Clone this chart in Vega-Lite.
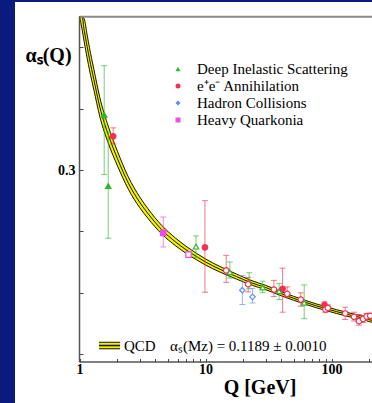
{
  "$schema": "https://vega.github.io/schema/vega-lite/v6.json",
  "width": 357,
  "height": 401,
  "autosize": {"type": "none"},
  "padding": {"left": 15, "top": 2, "right": 0, "bottom": 0},
  "background": "#0a1a7e",
  "config": {"view": {"fill": "white", "stroke": null}},
  "datasets": {
    "qcd": [
      {"Q": 1.0, "lo": 0.5, "mid": 0.5, "hi": 0.5},
      {"Q": 1.047, "lo": 0.484, "mid": 0.5, "hi": 0.5},
      {"Q": 1.09, "lo": 0.467, "mid": 0.482, "hi": 0.497},
      {"Q": 1.15, "lo": 0.446, "mid": 0.461, "hi": 0.476},
      {"Q": 1.2, "lo": 0.4305, "mid": 0.445, "hi": 0.4595},
      {"Q": 1.3, "lo": 0.4045, "mid": 0.418, "hi": 0.4315},
      {"Q": 1.45, "lo": 0.3695, "mid": 0.382, "hi": 0.3945},
      {"Q": 1.7, "lo": 0.334, "mid": 0.345, "hi": 0.356},
      {"Q": 2.0, "lo": 0.3055, "mid": 0.315, "hi": 0.3245},
      {"Q": 2.44, "lo": 0.275, "mid": 0.283, "hi": 0.291},
      {"Q": 3.0, "lo": 0.251, "mid": 0.258, "hi": 0.265},
      {"Q": 3.5, "lo": 0.2367, "mid": 0.243, "hi": 0.2493},
      {"Q": 4.5, "lo": 0.2164, "mid": 0.222, "hi": 0.2276},
      {"Q": 5.8, "lo": 0.201, "mid": 0.206, "hi": 0.211},
      {"Q": 7.0, "lo": 0.1914, "mid": 0.196, "hi": 0.2006},
      {"Q": 8.5, "lo": 0.1828, "mid": 0.187, "hi": 0.1912},
      {"Q": 10, "lo": 0.176, "mid": 0.18, "hi": 0.184},
      {"Q": 13, "lo": 0.1669, "mid": 0.1705, "hi": 0.1741},
      {"Q": 17.6, "lo": 0.1577, "mid": 0.161, "hi": 0.1643},
      {"Q": 23, "lo": 0.15, "mid": 0.153, "hi": 0.156},
      {"Q": 30, "lo": 0.1439, "mid": 0.1467, "hi": 0.1495},
      {"Q": 40, "lo": 0.1358, "mid": 0.1385, "hi": 0.1412},
      {"Q": 50, "lo": 0.13, "mid": 0.1326, "hi": 0.1352},
      {"Q": 62, "lo": 0.1249, "mid": 0.1274, "hi": 0.1299},
      {"Q": 75, "lo": 0.1205, "mid": 0.123, "hi": 0.1255},
      {"Q": 91.2, "lo": 0.1164, "mid": 0.1189, "hi": 0.1214},
      {"Q": 110, "lo": 0.1127, "mid": 0.1152, "hi": 0.1177},
      {"Q": 130, "lo": 0.1096, "mid": 0.1121, "hi": 0.1146},
      {"Q": 157, "lo": 0.1063, "mid": 0.1088, "hi": 0.1113},
      {"Q": 190, "lo": 0.1032, "mid": 0.1057, "hi": 0.1082},
      {"Q": 209.6, "lo": 0.1013, "mid": 0.1038, "hi": 0.1063}
    ],
    "meas": [
      {"group": "Deep Inelastic Scattering", "filled": 1, "Q": 1.57, "a": 0.372, "lo": 0.294, "hi": 0.436},
      {"group": "Deep Inelastic Scattering", "filled": 1, "Q": 1.69, "a": 0.279, "lo": 0.211, "hi": 0.349},
      {"group": "Deep Inelastic Scattering", "filled": 0, "Q": 8.4, "a": 0.2, "lo": 0.186, "hi": 0.214},
      {"group": "Deep Inelastic Scattering", "filled": 0, "Q": 15.6, "a": 0.1665, "lo": 0.159, "hi": 0.18},
      {"group": "Deep Inelastic Scattering", "filled": 0, "Q": 22.2, "a": 0.153, "lo": 0.145, "hi": 0.166},
      {"group": "Deep Inelastic Scattering", "filled": 0, "Q": 28.4, "a": 0.1466, "lo": 0.14, "hi": 0.155},
      {"group": "Deep Inelastic Scattering", "filled": 0, "Q": 38.4, "a": 0.1418, "lo": 0.131, "hi": 0.152},
      {"group": "Deep Inelastic Scattering", "filled": 0, "Q": 60.7, "a": 0.1267, "lo": 0.106, "hi": 0.15},
      {"group": "e⁺e⁻ Annihilation", "filled": 1, "Q": 1.85, "a": 0.344, "lo": 0.334, "hi": 0.355},
      {"group": "e⁺e⁻ Annihilation", "filled": 1, "Q": 9.9, "a": 0.199, "lo": 0.1405, "hi": 0.26},
      {"group": "e⁺e⁻ Annihilation", "filled": 0, "Q": 14.6, "a": 0.169, "lo": 0.1535, "hi": 0.1887},
      {"group": "e⁺e⁻ Annihilation", "filled": 0, "Q": 21.8, "a": 0.151, "lo": 0.141, "hi": 0.16},
      {"group": "e⁺e⁻ Annihilation", "filled": 0, "Q": 34.9, "a": 0.144, "lo": 0.135, "hi": 0.156},
      {"group": "e⁺e⁻ Annihilation", "filled": 1, "Q": 40.9, "a": 0.145, "lo": 0.1145, "hi": 0.172},
      {"group": "e⁺e⁻ Annihilation", "filled": 0, "Q": 44.5, "a": 0.1384, "lo": 0.134, "hi": 0.1475},
      {"group": "e⁺e⁻ Annihilation", "filled": 0, "Q": 57.0, "a": 0.131, "lo": 0.1223, "hi": 0.1397},
      {"group": "e⁺e⁻ Annihilation", "filled": 1, "Q": 88, "a": 0.124, "lo": 0.12, "hi": 0.128},
      {"group": "e⁺e⁻ Annihilation", "filled": 0, "Q": 89.5, "a": 0.118, "lo": 0.114, "hi": 0.122},
      {"group": "e⁺e⁻ Annihilation", "filled": 0, "Q": 93.5, "a": 0.12, "lo": 0.116, "hi": 0.124},
      {"group": "e⁺e⁻ Annihilation", "filled": 0, "Q": 128.5, "a": 0.1128, "lo": 0.105, "hi": 0.121},
      {"group": "e⁺e⁻ Annihilation", "filled": 0, "Q": 151, "a": 0.1085, "lo": 0.103, "hi": 0.1145},
      {"group": "e⁺e⁻ Annihilation", "filled": 0, "Q": 165, "a": 0.1027, "lo": 0.0975, "hi": 0.1115},
      {"group": "e⁺e⁻ Annihilation", "filled": 0, "Q": 178, "a": 0.1057, "lo": 0.101, "hi": 0.11},
      {"group": "e⁺e⁻ Annihilation", "filled": 0, "Q": 190, "a": 0.109, "lo": 0.105, "hi": 0.113},
      {"group": "e⁺e⁻ Annihilation", "filled": 0, "Q": 203, "a": 0.1098, "lo": 0.106, "hi": 0.113},
      {"group": "Hadron Collisions", "filled": 0, "Q": 19.6, "a": 0.1431, "lo": 0.1245, "hi": 0.1622},
      {"group": "Hadron Collisions", "filled": 0, "Q": 23.6, "a": 0.1345, "lo": 0.1265, "hi": 0.1456},
      {"group": "Heavy Quarkonia", "filled": 1, "Q": 4.62, "a": 0.218, "lo": 0.1996, "hi": 0.2387},
      {"group": "Heavy Quarkonia", "filled": 0, "Q": 7.33, "a": 0.1896, "lo": 0.1856, "hi": 0.1936}
    ]
  },
  "layer": [
    {
      "data": {"name": "qcd"},
      "mark": {"type": "area", "color": "#f0f000", "interpolate": "monotone"},
      "encoding": {
        "x": {
          "field": "Q", "type": "quantitative",
          "scale": {"type": "log", "domain": [0.3076, 209.6], "nice": false},
          "axis": {
            "orient": "bottom", "offset": -41, "domain": false, "grid": false,
            "values": [1, 2, 3, 4, 5, 6, 7, 8, 9, 10, 20, 30, 40, 50, 60, 70, 80, 90, 100, 200],
            "labelExpr": "indexof([1,10,100], datum.value) >= 0 ? '' + datum.value : ''",
            "tickSize": -3.5,
            "tickColor": "#444", "tickWidth": 1,
            "labelFont": "Liberation Serif", "labelFontWeight": "bold", "labelFontSize": 14, "labelColor": "black",
            "labelPadding": 4, "labelOverlap": false, "labelFlush": false, "labelBaseline": "top",
            "title": "Q [GeV]", "titleFont": "Liberation Serif", "titleFontSize": 20, "titleFontWeight": "bold",
            "titleColor": "black", "titleX": 244.5, "titleY": 31, "titleAlign": "center", "titleBaseline": "alphabetic"
          }
        },
        "y": {
          "field": "lo", "type": "quantitative",
          "scale": {"domain": [-0.004, 0.5192], "nice": false, "zero": false},
          "axis": {
            "orient": "left", "offset": -64.5, "domain": false, "grid": false,
            "values": [0.06, 0.08, 0.1, 0.12, 0.14, 0.16, 0.18, 0.2, 0.22, 0.24, 0.26, 0.28, 0.3, 0.32, 0.34, 0.36, 0.38, 0.4, 0.42, 0.44, 0.46, 0.48, 0.5],
            "labelExpr": "abs(datum.value * 10 - round(datum.value * 10)) < 0.001 ? format(datum.value, '.1f') : ''",
            "tickSize": -3.5,
            "tickColor": "#444", "tickWidth": 1,
            "labelFont": "Liberation Serif", "labelFontWeight": "bold", "labelFontSize": 14, "labelColor": "black",
            "labelPadding": 8, "labelOverlap": false, "labelFlush": false,
            "title": "αₛ(Q)", "titleFont": "Liberation Serif", "titleFontSize": 20, "titleFontWeight": "bold",
            "titleColor": "black", "titleAngle": 0, "titleX": -54.5, "titleY": 59, "titleAlign": "left", "titleBaseline": "alphabetic"
          }
        },
        "y2": {"field": "hi"}
      }
    },
    {
      "data": {"name": "qcd"},
      "mark": {"type": "line", "color": "#151500", "strokeWidth": 1.0, "interpolate": "monotone"},
      "encoding": {
        "x": {"field": "Q", "type": "quantitative"},
        "y": {"field": "lo", "type": "quantitative"}
      }
    },
    {
      "data": {"name": "qcd"},
      "mark": {"type": "line", "color": "#151500", "strokeWidth": 1.0, "interpolate": "monotone"},
      "encoding": {
        "x": {"field": "Q", "type": "quantitative"},
        "y": {"field": "mid", "type": "quantitative"}
      }
    },
    {
      "data": {"name": "qcd"},
      "mark": {"type": "line", "color": "#151500", "strokeWidth": 1.0, "interpolate": "monotone"},
      "encoding": {
        "x": {"field": "Q", "type": "quantitative"},
        "y": {"field": "hi", "type": "quantitative"}
      }
    },
    {
      "data": {"name": "meas"},
      "mark": {"type": "rule", "strokeWidth": 1, "strokeOpacity": 0.65},
      "encoding": {
        "x": {"field": "Q", "type": "quantitative"},
        "y": {"field": "lo", "type": "quantitative"},
        "y2": {"field": "hi"},
        "stroke": {"field": "group", "type": "nominal"}
      }
    },
    {
      "data": {"name": "meas"},
      "mark": {"type": "tick", "orient": "horizontal", "size": 6, "thickness": 1, "opacity": 0.65},
      "encoding": {
        "x": {"field": "Q", "type": "quantitative"},
        "y": {"field": "lo", "type": "quantitative"},
        "fill": {"field": "group", "type": "nominal"}
      }
    },
    {
      "data": {"name": "meas"},
      "mark": {"type": "tick", "orient": "horizontal", "size": 6, "thickness": 1, "opacity": 0.65},
      "encoding": {
        "x": {"field": "Q", "type": "quantitative"},
        "y": {"field": "hi", "type": "quantitative"},
        "fill": {"field": "group", "type": "nominal"}
      }
    },
    {
      "data": {"name": "meas"},
      "mark": {"type": "point", "filled": true, "size": 30, "strokeWidth": 1.2, "opacity": 1},
      "encoding": {
        "x": {"field": "Q", "type": "quantitative"},
        "y": {"field": "a", "type": "quantitative"},
        "shape": {
          "field": "group", "type": "nominal",
          "scale": {
            "domain": ["Deep Inelastic Scattering", "e⁺e⁻ Annihilation", "Hadron Collisions", "Heavy Quarkonia"],
            "range": ["triangle-up", "circle", "diamond", "square"]
          },
          "legend": {
            "orient": "none", "legendX": 155.5, "legendY": 59.5, "title": null, "padding": 0,
            "labelFont": "Liberation Serif", "labelFontSize": 15, "labelLimit": 300,
            "symbolSize": 25, "labelOffset": 11.5, "rowPadding": 1, "symbolStrokeWidth": 0,
            "encode": {
              "symbols": {
                "update": {
                  "shape": {"signal": "datum.value === 'Deep Inelastic Scattering' ? 'M-2.4,0.85L-1.4,-0.9L-0.4,0.85ZM-1.8,0.5L-1,0.5L-1.4,-0.2ZM0.4,0.85L1.4,-0.9L2.4,0.85Z' : datum.value === 'Hadron Collisions' ? 'M-1.4,-1L-0.4,0L-1.4,1L-2.4,0ZM-1.4,-0.5L-1.9,0L-1.4,0.5L-0.9,0Z' : datum.value === 'Heavy Quarkonia' ? 'M-2.3,-0.9L-0.5,-0.9L-0.5,0.9L-2.3,0.9ZM-1.9,-0.5L-1.9,0.5L-0.9,0.5L-0.9,-0.5ZM0.5,-0.9L2.3,-0.9L2.3,0.9L0.5,0.9Z' : 'M-2.25,0A0.85,0.85,0,1,1,-0.55,0A0.85,0.85,0,1,1,-2.25,0ZM-1.85,0A0.45,0.45,0,1,0,-0.95,0A0.45,0.45,0,1,0,-1.85,0ZM0.55,0A0.85,0.85,0,1,1,2.25,0A0.85,0.85,0,1,1,0.55,0Z'"},
                  "fill": {"signal": "datum.value === 'Deep Inelastic Scattering' ? '#2fb52f' : datum.value === 'Hadron Collisions' ? '#5b8cff' : datum.value === 'Heavy Quarkonia' ? '#f04ae6' : '#f2304f'"},
                  "fillOpacity": {"value": 1},
                  "opacity": {"value": 1},
                  "strokeWidth": {"value": 0}
                }
              },
              "labels": {
                "update": {
                  "fill": {"signal": "datum.value === 'Deep Inelastic Scattering' ? '#3cb83c' : datum.value === 'Hadron Collisions' ? '#6b98ff' : datum.value === 'Heavy Quarkonia' ? '#f25cf0' : '#f5335a'"}
                }
              }
            }
          }
        },
        "fill": {
          "condition": {"test": "datum.filled == 0", "value": "white"},
          "field": "group", "type": "nominal",
          "scale": {
            "domain": ["Deep Inelastic Scattering", "e⁺e⁻ Annihilation", "Hadron Collisions", "Heavy Quarkonia"],
            "range": ["#2fb52f", "#f2304f", "#5b8cff", "#f04ae6"]
          },
          "legend": {
            "orient": "none", "legendX": 155.5, "legendY": 59.5, "title": null, "padding": 0,
            "labelFont": "Liberation Serif", "labelFontSize": 15, "labelLimit": 300,
            "symbolSize": 25, "labelOffset": 11.5, "rowPadding": 1, "symbolStrokeWidth": 0,
            "encode": {
              "symbols": {
                "update": {
                  "shape": {"signal": "datum.value === 'Deep Inelastic Scattering' ? 'M-2.4,0.85L-1.4,-0.9L-0.4,0.85ZM-1.8,0.5L-1,0.5L-1.4,-0.2ZM0.4,0.85L1.4,-0.9L2.4,0.85Z' : datum.value === 'Hadron Collisions' ? 'M-1.4,-1L-0.4,0L-1.4,1L-2.4,0ZM-1.4,-0.5L-1.9,0L-1.4,0.5L-0.9,0Z' : datum.value === 'Heavy Quarkonia' ? 'M-2.3,-0.9L-0.5,-0.9L-0.5,0.9L-2.3,0.9ZM-1.9,-0.5L-1.9,0.5L-0.9,0.5L-0.9,-0.5ZM0.5,-0.9L2.3,-0.9L2.3,0.9L0.5,0.9Z' : 'M-2.25,0A0.85,0.85,0,1,1,-0.55,0A0.85,0.85,0,1,1,-2.25,0ZM-1.85,0A0.45,0.45,0,1,0,-0.95,0A0.45,0.45,0,1,0,-1.85,0ZM0.55,0A0.85,0.85,0,1,1,2.25,0A0.85,0.85,0,1,1,0.55,0Z'"},
                  "fill": {"signal": "datum.value === 'Deep Inelastic Scattering' ? '#2fb52f' : datum.value === 'Hadron Collisions' ? '#5b8cff' : datum.value === 'Heavy Quarkonia' ? '#f04ae6' : '#f2304f'"},
                  "fillOpacity": {"value": 1},
                  "opacity": {"value": 1},
                  "strokeWidth": {"value": 0}
                }
              },
              "labels": {
                "update": {
                  "fill": {"signal": "datum.value === 'Deep Inelastic Scattering' ? '#3cb83c' : datum.value === 'Hadron Collisions' ? '#6b98ff' : datum.value === 'Heavy Quarkonia' ? '#f25cf0' : '#f5335a'"}
                }
              }
            }
          }
        },
        "stroke": {
          "field": "group", "type": "nominal",
          "scale": {
            "domain": ["Deep Inelastic Scattering", "e⁺e⁻ Annihilation", "Hadron Collisions", "Heavy Quarkonia"],
            "range": ["#2fb52f", "#f2304f", "#5b8cff", "#f04ae6"]
          },
          "legend": {
            "orient": "none", "legendX": 155.5, "legendY": 59.5, "title": null, "padding": 0,
            "labelFont": "Liberation Serif", "labelFontSize": 15, "labelLimit": 300,
            "symbolSize": 25, "labelOffset": 11.5, "rowPadding": 1, "symbolStrokeWidth": 0,
            "encode": {
              "symbols": {
                "update": {
                  "shape": {"signal": "datum.value === 'Deep Inelastic Scattering' ? 'M-2.4,0.85L-1.4,-0.9L-0.4,0.85ZM-1.8,0.5L-1,0.5L-1.4,-0.2ZM0.4,0.85L1.4,-0.9L2.4,0.85Z' : datum.value === 'Hadron Collisions' ? 'M-1.4,-1L-0.4,0L-1.4,1L-2.4,0ZM-1.4,-0.5L-1.9,0L-1.4,0.5L-0.9,0Z' : datum.value === 'Heavy Quarkonia' ? 'M-2.3,-0.9L-0.5,-0.9L-0.5,0.9L-2.3,0.9ZM-1.9,-0.5L-1.9,0.5L-0.9,0.5L-0.9,-0.5ZM0.5,-0.9L2.3,-0.9L2.3,0.9L0.5,0.9Z' : 'M-2.25,0A0.85,0.85,0,1,1,-0.55,0A0.85,0.85,0,1,1,-2.25,0ZM-1.85,0A0.45,0.45,0,1,0,-0.95,0A0.45,0.45,0,1,0,-1.85,0ZM0.55,0A0.85,0.85,0,1,1,2.25,0A0.85,0.85,0,1,1,0.55,0Z'"},
                  "fill": {"signal": "datum.value === 'Deep Inelastic Scattering' ? '#2fb52f' : datum.value === 'Hadron Collisions' ? '#5b8cff' : datum.value === 'Heavy Quarkonia' ? '#f04ae6' : '#f2304f'"},
                  "fillOpacity": {"value": 1},
                  "opacity": {"value": 1},
                  "strokeWidth": {"value": 0}
                }
              },
              "labels": {
                "update": {
                  "fill": {"signal": "datum.value === 'Deep Inelastic Scattering' ? '#3cb83c' : datum.value === 'Hadron Collisions' ? '#6b98ff' : datum.value === 'Heavy Quarkonia' ? '#f25cf0' : '#f5335a'"}
                }
              }
            }
          }
        }
      }
    },
    {
      "data": {"values": [{}]},
      "mark": {"type": "rule", "color": "#8a8a8a", "strokeWidth": 2},
      "encoding": {
        "x": {"datum": 1, "type": "quantitative"},
        "x2": {"datum": 209.6},
        "y": {"datum": 0.5, "type": "quantitative"}
      }
    },
    {
      "data": {"values": [{}]},
      "mark": {"type": "rule", "color": "#555555", "strokeWidth": 1.5},
      "encoding": {
        "x": {"datum": 1, "type": "quantitative"},
        "y": {"datum": 0.0495, "type": "quantitative"},
        "y2": {"datum": 0.5}
      }
    },
    {
      "data": {"values": [{}]},
      "mark": {"type": "rule", "color": "#555555", "strokeWidth": 1.5},
      "encoding": {
        "x": {"datum": 1, "type": "quantitative"},
        "x2": {"datum": 209.6},
        "y": {"datum": 0.0495, "type": "quantitative"}
      }
    },
    {
      "data": {"values": [{}]},
      "mark": {"type": "rule", "color": "#151500", "strokeWidth": 7.5},
      "encoding": {
        "x": {"datum": 1.428, "type": "quantitative"},
        "x2": {"datum": 2.097},
        "y": {"datum": 0.071, "type": "quantitative"}
      }
    },
    {
      "data": {"values": [{}]},
      "mark": {"type": "rule", "color": "#f0f000", "strokeWidth": 5.5},
      "encoding": {
        "x": {"datum": 1.428, "type": "quantitative"},
        "x2": {"datum": 2.097},
        "y": {"datum": 0.071, "type": "quantitative"}
      }
    },
    {
      "data": {"values": [{}]},
      "mark": {"type": "rule", "color": "#151500", "strokeWidth": 1.5},
      "encoding": {
        "x": {"datum": 1.428, "type": "quantitative"},
        "x2": {"datum": 2.097},
        "y": {"datum": 0.071, "type": "quantitative"}
      }
    },
    {
      "data": {"values": [{}]},
      "mark": {"type": "text", "text": "QCD", "align": "left", "baseline": "alphabetic", "font": "Liberation Serif", "fontSize": 15, "color": "black"},
      "encoding": {
        "x": {"datum": 2.256, "type": "quantitative"},
        "y": {"datum": 0.0639, "type": "quantitative"}
      }
    },
    {
      "data": {"values": [{}]},
      "mark": {"type": "text", "text": "αₛ(Mᴢ) = 0.1189 ± 0.0010", "align": "left", "baseline": "alphabetic", "font": "Liberation Serif", "fontSize": 15, "color": "black"},
      "encoding": {
        "x": {"datum": 5.23, "type": "quantitative"},
        "y": {"datum": 0.0639, "type": "quantitative"}
      }
    }
  ]
}
